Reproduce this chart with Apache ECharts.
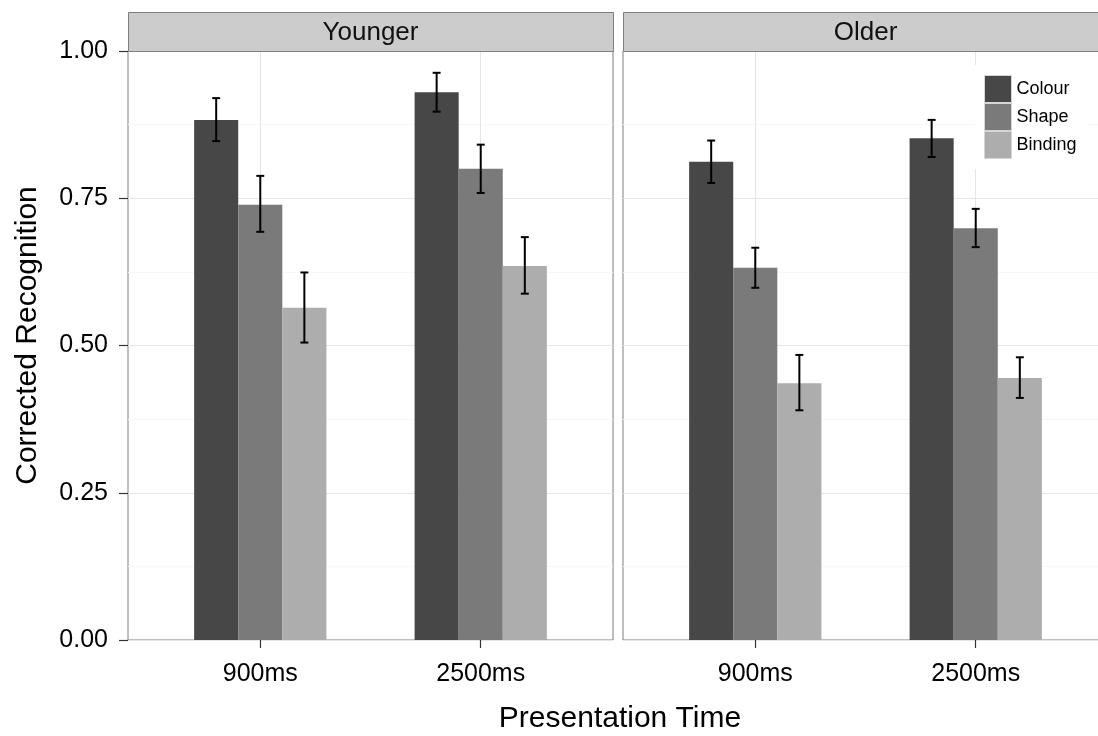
<!DOCTYPE html>
<html>
<head>
<meta charset="utf-8">
<script src="https://cdn.jsdelivr.net/npm/echarts@6/dist/echarts.min.js"></script>
<style>
html,body{margin:0;padding:0;background:#fff;}
#chart{width:1098px;height:736px;}
</style>
</head>
<body>
<div id="chart"></div>
<script>
// ---- data ----
var categories = ['900ms', '2500ms'];
var panels = ['Younger', 'Older'];
var conditions = ['Colour', 'Shape', 'Binding'];
var condColors = ['#474747', '#7a7a7a', '#adadad'];
var yTicks = [0, 0.25, 0.5, 0.75, 1.0];

var youngerColour = [0.883, 0.930];
var youngerColourLo = [0.847, 0.897];
var youngerColourHi = [0.920, 0.963];
var youngerShape = [0.739, 0.800];
var youngerShapeLo = [0.693, 0.759];
var youngerShapeHi = [0.788, 0.841];
var youngerBinding = [0.564, 0.635];
var youngerBindingLo = [0.505, 0.588];
var youngerBindingHi = [0.624, 0.684];

var olderColour = [0.812, 0.852];
var olderColourLo = [0.776, 0.820];
var olderColourHi = [0.848, 0.883];
var olderShape = [0.632, 0.699];
var olderShapeLo = [0.598, 0.667];
var olderShapeHi = [0.666, 0.732];
var olderBinding = [0.436, 0.445];
var olderBindingLo = [0.390, 0.411];
var olderBindingHi = [0.484, 0.480];

var panelData = [
  [[youngerColour, youngerColourLo, youngerColourHi],
   [youngerShape, youngerShapeLo, youngerShapeHi],
   [youngerBinding, youngerBindingLo, youngerBindingHi]],
  [[olderColour, olderColourLo, olderColourHi],
   [olderShape, olderShapeLo, olderShapeHi],
   [olderBinding, olderBindingLo, olderBindingHi]]
];

// ---- layout ----
var FONT = 'Liberation Sans, Arial, sans-serif';
var gridLefts = [128, 623];
var gridW = 485, gridTop = 51, gridH = 589;
var dodge = 0.2;   // bar width in category units
var capW = 0.036;

var chart = echarts.init(document.getElementById('chart'), null, {renderer: 'canvas'});

var grids = [], xAxes = [], yAxes = [], series = [], graphics = [];

panels.forEach(function (p, pi) {
  grids.push({left: gridLefts[pi], top: gridTop, width: gridW, height: gridH,
    show: true, borderColor: '#7f7f7f', borderWidth: 1, backgroundColor: '#fff',
    outerBoundsMode: 'none', containLabel: false});
  xAxes.push({
    type: 'value', gridIndex: pi, min: -0.6, max: 1.6,
    axisLine: {show: false, onZero: false},
    axisTick: {show: true, length: 8, lineStyle: {color: '#333', width: 1.2}, customValues: [0, 1]},
    axisLabel: {show: true, customValues: [0, 1], margin: 22, fontSize: 25, color: '#000', fontFamily: FONT,
      formatter: function (v) { return categories[Math.round(v)]; }},
    splitLine: {show: true, lineStyle: {color: '#e5e5e5', width: 1}, customValues: [0, 1]},
    minorSplitLine: {show: false}
  });
  yAxes.push({
    type: 'value', gridIndex: pi, min: 0, max: 1, interval: 0.25,
    axisLine: {show: false, onZero: false},
    axisTick: {show: pi === 0, length: 9, lineStyle: {color: '#333', width: 1.2}},
    axisLabel: {show: pi === 0, margin: 20, fontSize: 25, color: '#000', fontFamily: FONT,
      formatter: function (v) { return v.toFixed(2); }},
    splitLine: {show: true, lineStyle: {color: '#e5e5e5', width: 1}},
    minorTick: {show: false, splitNumber: 2},
    minorSplitLine: {show: true, lineStyle: {color: '#f7f7f7', width: 1}},
    name: pi === 0 ? 'Corrected Recognition' : '',
    nameLocation: 'middle', nameGap: 85,
    nameTextStyle: {fontSize: 30, color: '#000', fontFamily: FONT, padding: [0, 0, 0, 20]}
  });

  conditions.forEach(function (c, ci) {
    var vals = panelData[pi][ci][0], lo = panelData[pi][ci][1], hi = panelData[pi][ci][2];
    var off = (ci - 1) * dodge;
    var data = categories.map(function (cat, k) { return [k + off, vals[k], lo[k], hi[k]]; });
    series.push({
      type: 'custom', name: c, xAxisIndex: pi, yAxisIndex: pi,
      itemStyle: {color: condColors[ci]},
      z: 2,
      data: data,
      renderItem: function (params, api) {
        var x = api.value(0), y = api.value(1);
        var p1 = api.coord([x - dodge / 2, y]);
        var p2 = api.coord([x + dodge / 2, 0]);
        return {type: 'rect', shape: {x: p1[0], y: p1[1], width: p2[0] - p1[0], height: p2[1] - p1[1]},
          style: {fill: api.visual('color')}};
      }
    });
    series.push({
      type: 'custom', name: c, xAxisIndex: pi, yAxisIndex: pi,
      itemStyle: {color: condColors[ci]},
      z: 5, silent: true,
      data: data,
      renderItem: function (params, api) {
        var x = api.value(0), l = api.value(2), h = api.value(3);
        var top = api.coord([x, h]), bot = api.coord([x, l]);
        var cl = api.coord([x - capW / 2, h]), cr = api.coord([x + capW / 2, h]);
        var bl = api.coord([x - capW / 2, l]), br = api.coord([x + capW / 2, l]);
        var st = {stroke: '#000', lineWidth: 2, fill: null};
        return {type: 'group', children: [
          {type: 'line', shape: {x1: top[0], y1: top[1], x2: bot[0], y2: bot[1]}, style: st},
          {type: 'line', shape: {x1: cl[0], y1: cl[1], x2: cr[0], y2: cr[1]}, style: st},
          {type: 'line', shape: {x1: bl[0], y1: bl[1], x2: br[0], y2: br[1]}, style: st}
        ]};
      }
    });
  });

  // facet strip
  graphics.push({type: 'rect', left: gridLefts[pi], top: 12, z: 10,
    shape: {x: 0, y: 0, width: gridW, height: gridTop - 12},
    style: {fill: '#cccccc', stroke: '#7f7f7f', lineWidth: 1}});
  graphics.push({type: 'text', z: 11, x: gridLefts[pi] + gridW / 2, y: (12 + gridTop) / 2 + 1,
    style: {text: p, fontSize: 26, fontFamily: FONT, fill: '#111', align: 'center', verticalAlign: 'middle'}});
});

var option = {
  backgroundColor: '#fff',
  animation: false,
  title: {text: 'Presentation Time', left: 620, top: 704, textAlign: 'center', padding: 0,
    textStyle: {fontSize: 30, fontWeight: 'normal', color: '#000', fontFamily: FONT}},
  legend: {
    data: conditions, orient: 'vertical', left: 974, top: 65, padding: [10, 10, 10, 10],
    itemGap: 0, itemWidth: 27, itemHeight: 27, icon: 'rect',
    backgroundColor: '#fff', z: 20,
    itemStyle: {borderColor: '#d6d6d6', borderWidth: 1},
    textStyle: {fontSize: 18, color: '#000', fontFamily: FONT}
  },
  grid: grids, xAxis: xAxes, yAxis: yAxes, series: series,
  graphic: graphics
};
chart.setOption(option);
</script>
</body>
</html>
